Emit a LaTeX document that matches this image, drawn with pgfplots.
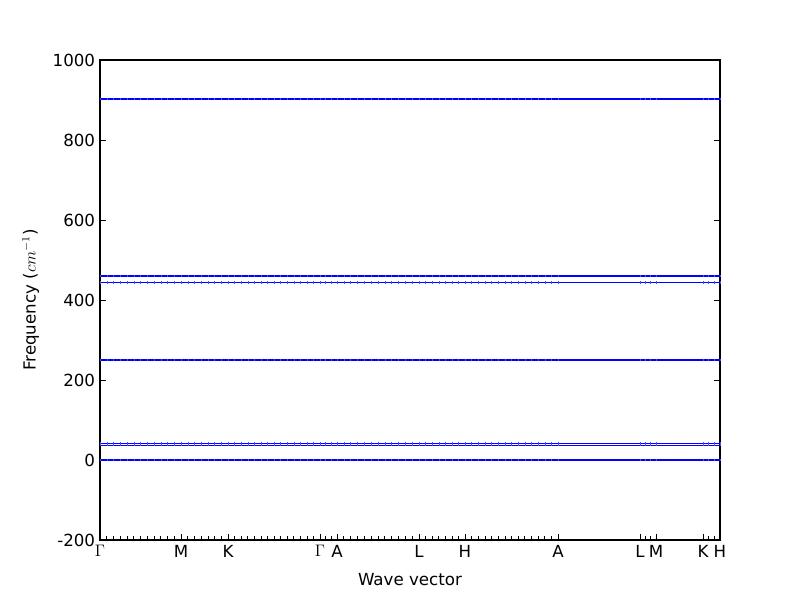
\documentclass[border=0pt]{standalone}
\usepackage{fontspec}
\setmainfont{DejaVu Sans}
\usepackage{pgfplots}
\usepackage{pgfplotstable}
\pgfplotsset{compat=1.18}

\pgfplotstableread{
x a b c d f g h
0 0 37 41 250 444 460 902
6.75 0 37 41 250 444 460 902
13.5 0 37 41 250 444 460 902
20.25 0 37 41 250 444 460 902
27 0 37 41 250 444 460 902
33.75 0 37 41 250 444 460 902
40.5 0 37 41 250 444 460 902
47.25 0 37 41 250 444 460 902
54 0 37 41 250 444 460 902
60.75 0 37 41 250 444 460 902
67.5 0 37 41 250 444 460 902
74.25 0 37 41 250 444 460 902
81 0 37 41 250 444 460 902
87.71 0 37 41 250 444 460 902
94.43 0 37 41 250 444 460 902
101.14 0 37 41 250 444 460 902
107.86 0 37 41 250 444 460 902
114.57 0 37 41 250 444 460 902
121.29 0 37 41 250 444 460 902
128 0 37 41 250 444 460 902
134.57 0 37 41 250 444 460 902
141.14 0 37 41 250 444 460 902
147.71 0 37 41 250 444 460 902
154.29 0 37 41 250 444 460 902
160.86 0 37 41 250 444 460 902
167.43 0 37 41 250 444 460 902
174 0 37 41 250 444 460 902
180.57 0 37 41 250 444 460 902
187.14 0 37 41 250 444 460 902
193.71 0 37 41 250 444 460 902
200.29 0 37 41 250 444 460 902
206.86 0 37 41 250 444 460 902
213.43 0 37 41 250 444 460 902
220 0 37 41 250 444 460 902
225.67 0 37 41 250 444 460 902
231.33 0 37 41 250 444 460 902
237 0 37 41 250 444 460 902
243.83 0 37 41 250 444 460 902
250.67 0 37 41 250 444 460 902
257.5 0 37 41 250 444 460 902
264.33 0 37 41 250 444 460 902
271.17 0 37 41 250 444 460 902
278 0 37 41 250 444 460 902
284.83 0 37 41 250 444 460 902
291.67 0 37 41 250 444 460 902
298.5 0 37 41 250 444 460 902
305.33 0 37 41 250 444 460 902
312.17 0 37 41 250 444 460 902
319 0 37 41 250 444 460 902
325.57 0 37 41 250 444 460 902
332.14 0 37 41 250 444 460 902
338.71 0 37 41 250 444 460 902
345.29 0 37 41 250 444 460 902
351.86 0 37 41 250 444 460 902
358.43 0 37 41 250 444 460 902
365 0 37 41 250 444 460 902
371.64 0 37 41 250 444 460 902
378.29 0 37 41 250 444 460 902
384.93 0 37 41 250 444 460 902
391.57 0 37 41 250 444 460 902
398.21 0 37 41 250 444 460 902
404.86 0 37 41 250 444 460 902
411.5 0 37 41 250 444 460 902
418.14 0 37 41 250 444 460 902
424.79 0 37 41 250 444 460 902
431.43 0 37 41 250 444 460 902
438.07 0 37 41 250 444 460 902
444.71 0 37 41 250 444 460 902
451.36 0 37 41 250 444 460 902
458 0 37 41 250 444 460 902
540 0 37 41 250 444 460 902
545.33 0 37 41 250 444 460 902
550.67 0 37 41 250 444 460 902
556 0 37 41 250 444 460 902
603 0 37 41 250 444 460 902
608.67 0 37 41 250 444 460 902
614.33 0 37 41 250 444 460 902
620 0 37 41 250 444 460 902
}\bands

\begin{document}
\begin{tikzpicture}[font=\fontsize{12}{14.4}\selectfont]
\begin{axis}[
  name=ax,
  scale only axis,
  width=446.4pt, height=345.6pt,
  xmin=0, xmax=620, ymin=-200, ymax=1000,
  ytick={-200,0,200,400,600,800,1000},
  xtick={0,81,128,220,237,319,365,458,540,556,603,620},
  xticklabels={$\Gamma$,M,K,$\Gamma$,A,L,H,A,L,M,K,H},
  minor xtick={6.75,13.5,20.25,27,33.75,40.5,47.25,54,60.75,67.5,74.25,
    87.71,94.43,101.14,107.86,114.57,121.29,
    134.57,141.14,147.71,154.29,160.86,167.43,174,180.57,187.14,193.71,200.29,206.86,213.43,
    225.67,231.33,
    243.83,250.67,257.5,264.33,271.17,278,284.83,291.67,298.5,305.33,312.17,
    325.57,332.14,338.71,345.29,351.86,358.43,
    371.64,378.29,384.93,391.57,398.21,404.86,411.5,418.14,424.79,431.43,438.07,444.71,451.36,
    545.33,550.67,608.67,614.33},
  xtick pos=bottom,
  ytick pos=both,
  tick align=inside,
  major tick length=4pt,
  minor tick length=3pt,
  every tick/.style={black, line width=0.5pt},
  /pgf/number format/assume math mode=true,
  /pgf/number format/1000 sep={},
  axis line style={line width=0.8pt},
  xlabel={Wave vector},
  ylabel={Frequency ($cm^{-1}$)},
  xlabel style={yshift=-5pt},
  ylabel style={yshift=3pt},
  band/.style={blue, line width=1pt, mark=|, mark size=0.8pt, mark options={blue!70, line width=0.3pt, solid}},
]
\addplot[band] table[x=x, y=a] {\bands};
\addplot[band] table[x=x, y=b] {\bands};
\addplot[band] table[x=x, y=c] {\bands};
\addplot[band] table[x=x, y=d] {\bands};
\addplot[band] table[x=x, y=f] {\bands};
\addplot[band] table[x=x, y=g] {\bands};
\addplot[band] table[x=x, y=h] {\bands};
\end{axis}
\path ([xshift=-72pt,yshift=-43.2pt]ax.south west) rectangle ([xshift=57.6pt,yshift=43.2pt]ax.north east);
\end{tikzpicture}
\end{document}
